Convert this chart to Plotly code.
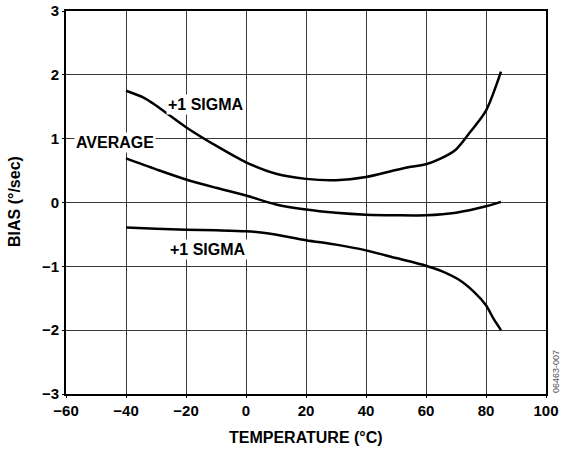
import plotly.graph_objects as go

# Data
temp_upper = [-40, -34, -30, -20, -10, 0, 10, 20, 30, 40, 50, 55, 60, 65, 70, 75, 80, 85]
bias_upper = [1.75, 1.64, 1.52, 1.18, 0.89, 0.63, 0.45, 0.37, 0.35, 0.40, 0.51, 0.56, 0.60, 0.69, 0.83, 1.12, 1.44, 2.05]

temp_avg = [-40, -30, -20, -10, 0, 10, 20, 30, 40, 50, 60, 70, 80, 85]
bias_avg = [0.69, 0.52, 0.36, 0.23, 0.11, -0.03, -0.11, -0.16, -0.19, -0.20, -0.20, -0.16, -0.06, 0.01]

temp_lower = [-40, -30, -20, -10, 0, 7, 20, 30, 40, 50, 60, 65, 71, 76, 80, 82.5, 85]
bias_lower = [-0.39, -0.41, -0.425, -0.435, -0.45, -0.48, -0.59, -0.66, -0.75, -0.87, -0.99, -1.07, -1.21, -1.40, -1.61, -1.82, -2.0]

x_ticks = [-60, -40, -20, 0, 20, 40, 60, 80, 100]
x_tick_labels = ["\u221260", "\u221240", "\u221220", "0", "20", "40", "60", "80", "100"]
y_ticks = [-3, -2, -1, 0, 1, 2, 3]
y_tick_labels = ["\u22123", "\u22122", "\u22121", "0", "1", "2", "3"]

FONT = "Liberation Sans"
FS_TICK = 15
FS_TEXT = 16
line_style = dict(color="black", width=2.5, shape="spline", smoothing=0.8)

# plot-area geometry (pixels)
L, R, T, B = 66, 15, 11, 62
W, H = 561 - L - R, 456 - T - B

fig = go.Figure()
for xs, ys, name in [(temp_upper, bias_upper, "+1 SIGMA"),
                     (temp_avg, bias_avg, "AVERAGE"),
                     (temp_lower, bias_lower, "-1 SIGMA")]:
    fig.add_trace(go.Scatter(x=xs, y=ys, mode="lines", line=line_style,
                             name=name, showlegend=False, hoverinfo="skip"))

label_font = dict(family=FONT, size=FS_TEXT, color="black")
for text, x, y in [("+1 SIGMA", -13.3, 1.53), ("AVERAGE", -43.7, 0.94), ("+1 SIGMA", -12.7, -0.74)]:
    fig.add_annotation(x=x, y=y, text="<b>" + text + "</b>", showarrow=False, font=label_font,
                       bgcolor="white", borderpad=1, xref="x", yref="y",
                       xanchor="center", yanchor="middle")

# axis titles as annotations for precise placement
fig.add_annotation(text="<b>TEMPERATURE (°C)</b>", xref="paper", yref="paper",
                   x=0.5, y=(T + H - 438) / H, showarrow=False,
                   xanchor="center", yanchor="middle",
                   font=dict(family=FONT, size=FS_TEXT, color="black"))
fig.add_annotation(text="<b>BIAS (°/sec)</b>", xref="paper", yref="paper",
                   x=(14 - L) / W, y=(T + H - 202) / H, showarrow=False, textangle=-90,
                   xanchor="center", yanchor="middle",
                   font=dict(family=FONT, size=FS_TEXT, color="black"))

fig.add_annotation(text="06463-007", xref="paper", yref="paper",
                   x=(556 - L) / W, y=(T + H - 372) / H,
                   showarrow=False, textangle=-90,
                   xanchor="center", yanchor="middle",
                   font=dict(family=FONT, size=9, color="#555555"))

axis_common = dict(
    showgrid=True, gridcolor="#3a3a3a", gridwidth=1,
    showline=True, linecolor="black", linewidth=2, mirror=True,
    zeroline=False, ticks="outside", ticklen=2, tickcolor="black",
    automargin=False,
    tickfont=dict(family=FONT, size=FS_TICK, color="black"),
)

fig.update_xaxes(range=[-60, 100], tickvals=x_ticks,
                 ticktext=["<b>" + t + "</b>" for t in x_tick_labels], **axis_common)
fig.update_yaxes(range=[-3, 3], tickvals=y_ticks,
                 ticktext=["<b>" + t + "</b>" for t in y_tick_labels], **axis_common)

fig.update_layout(
    width=561, height=456,
    margin=dict(l=L, r=R, t=T, b=B),
    paper_bgcolor="white", plot_bgcolor="white",
    font=dict(family=FONT),
)

fig.write_html("out.html", config={"displayModeBar": False},
               post_script="document.body.style.margin='0';document.body.style.padding='0';")
